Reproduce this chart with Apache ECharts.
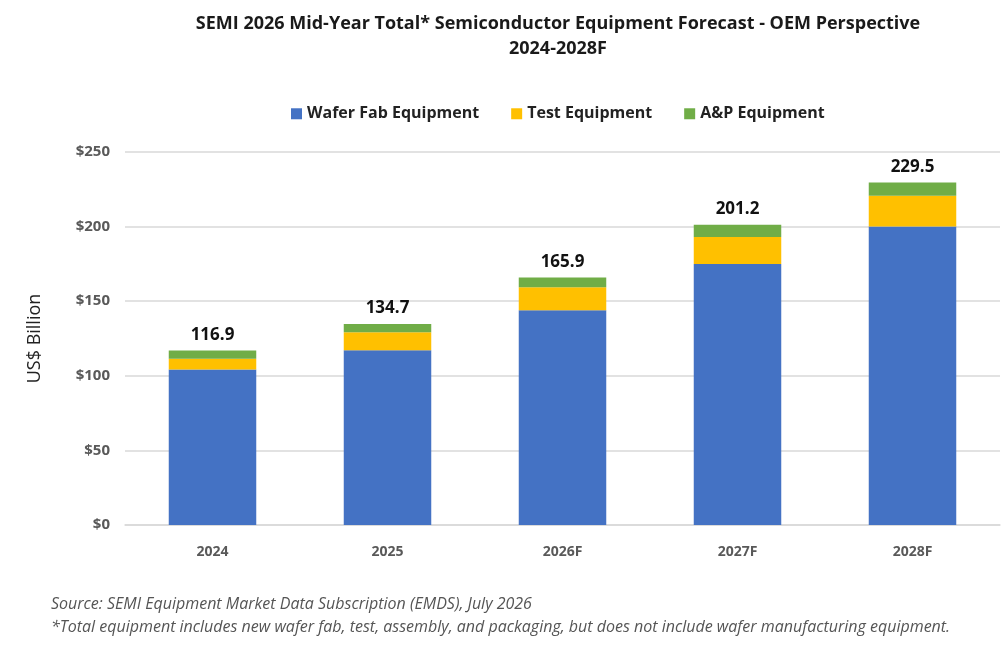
<!DOCTYPE html>
<html>
<head>
    <title>SEMI Equipment Forecast</title>
    <script src="https://cdn.jsdelivr.net/npm/echarts@6/dist/echarts.min.js"></script>
    <style>
        html, body { margin: 0; padding: 0; background: #fff; }
    </style>
</head>
<body>
    <div id="chart" style="width: 1006px;height:646px"></div>

    <script>
        const years = ['2024', '2025', '2026F', '2027F', '2028F']
        const waferFab = [104.2, 117.1, 144.0, 175.0, 200.0]
        const test = [7.3, 12.1, 15.4, 18.1, 20.6]
        const assemblyPkg = [5.4, 5.5, 6.5, 8.1, 8.9]
        const totals = [116.9, 134.7, 165.9, 201.2, 229.5]
        const yTicks = [0, 50, 100, 150, 200, 250]

        const font = '"Open Sans", "Noto Sans", sans-serif'
        const chart = echarts.init(document.getElementById('chart'))
        chart.setOption({
            animation: false,
            textStyle: { fontFamily: font },
            title: [{
                text: 'SEMI 2026 Mid-Year Total* Semiconductor Equipment Forecast - OEM Perspective\n2024-2028F',
                left: 553, top: 6, textAlign: 'center',
                textStyle: { fontSize: 18, fontWeight: 'bold', color: '#1a1a1a', lineHeight: 25, fontFamily: font }
            }, {
                text: 'Source: SEMI Equipment Market Data Subscription (EMDS), July 2026\n*Total equipment includes new wafer fab, test, assembly, and packaging, but does not include wafer manufacturing equipment.',
                left: 46, top: 588,
                textStyle: { fontSize: 16, fontStyle: 'italic', fontWeight: 'normal', color: '#555', lineHeight: 23, fontFamily: font }
            }],
            legend: {
                top: 94, left: 286,
                itemWidth: 11, itemHeight: 11, itemGap: 32,
                icon: 'rect',
                textStyle: { fontSize: 16, fontWeight: 'bold', color: '#222', fontFamily: font },
                data: ['Wafer Fab Equipment', 'Test Equipment', 'A&P Equipment']
            },
            grid: { left: 125, right: 6, top: 152, bottom: 121 },
            xAxis: {
                type: 'category',
                data: years,
                axisTick: { show: false },
                axisLine: { lineStyle: { color: '#d9d9d9', width: 1.5 } },
                axisLabel: { margin: 14, fontSize: 14, fontWeight: 'bold', color: '#595959' }
            },
            yAxis: {
                type: 'value',
                min: yTicks[0], max: yTicks[yTicks.length - 1], interval: 50,
                name: 'US$ Billion',
                nameLocation: 'middle', nameGap: 76, nameRotate: 90,
                nameTextStyle: { fontSize: 18, color: '#222' },
                splitLine: { lineStyle: { color: '#d9d9d9', width: 1.5 } },
                axisLabel: { margin: 15, fontSize: 15, fontWeight: 'bold', color: '#595959', formatter: v => '$' + v }
            },
            series: [{
                name: 'Wafer Fab Equipment', type: 'bar', stack: 'total',
                data: waferFab, barWidth: '50%',
                itemStyle: { color: '#4472C4' }
            }, {
                name: 'Test Equipment', type: 'bar', stack: 'total',
                data: test,
                itemStyle: { color: '#FFC000' }
            }, {
                name: 'A&P Equipment', type: 'bar', stack: 'total',
                data: assemblyPkg,
                itemStyle: { color: '#70AD47' },
                label: {
                    show: true, position: 'top', distance: 0,
                    fontSize: 17, fontWeight: 'bold', color: '#111',
                    formatter: p => totals[p.dataIndex].toFixed(1)
                }
            }]
        })
    </script>
</body>
</html>
